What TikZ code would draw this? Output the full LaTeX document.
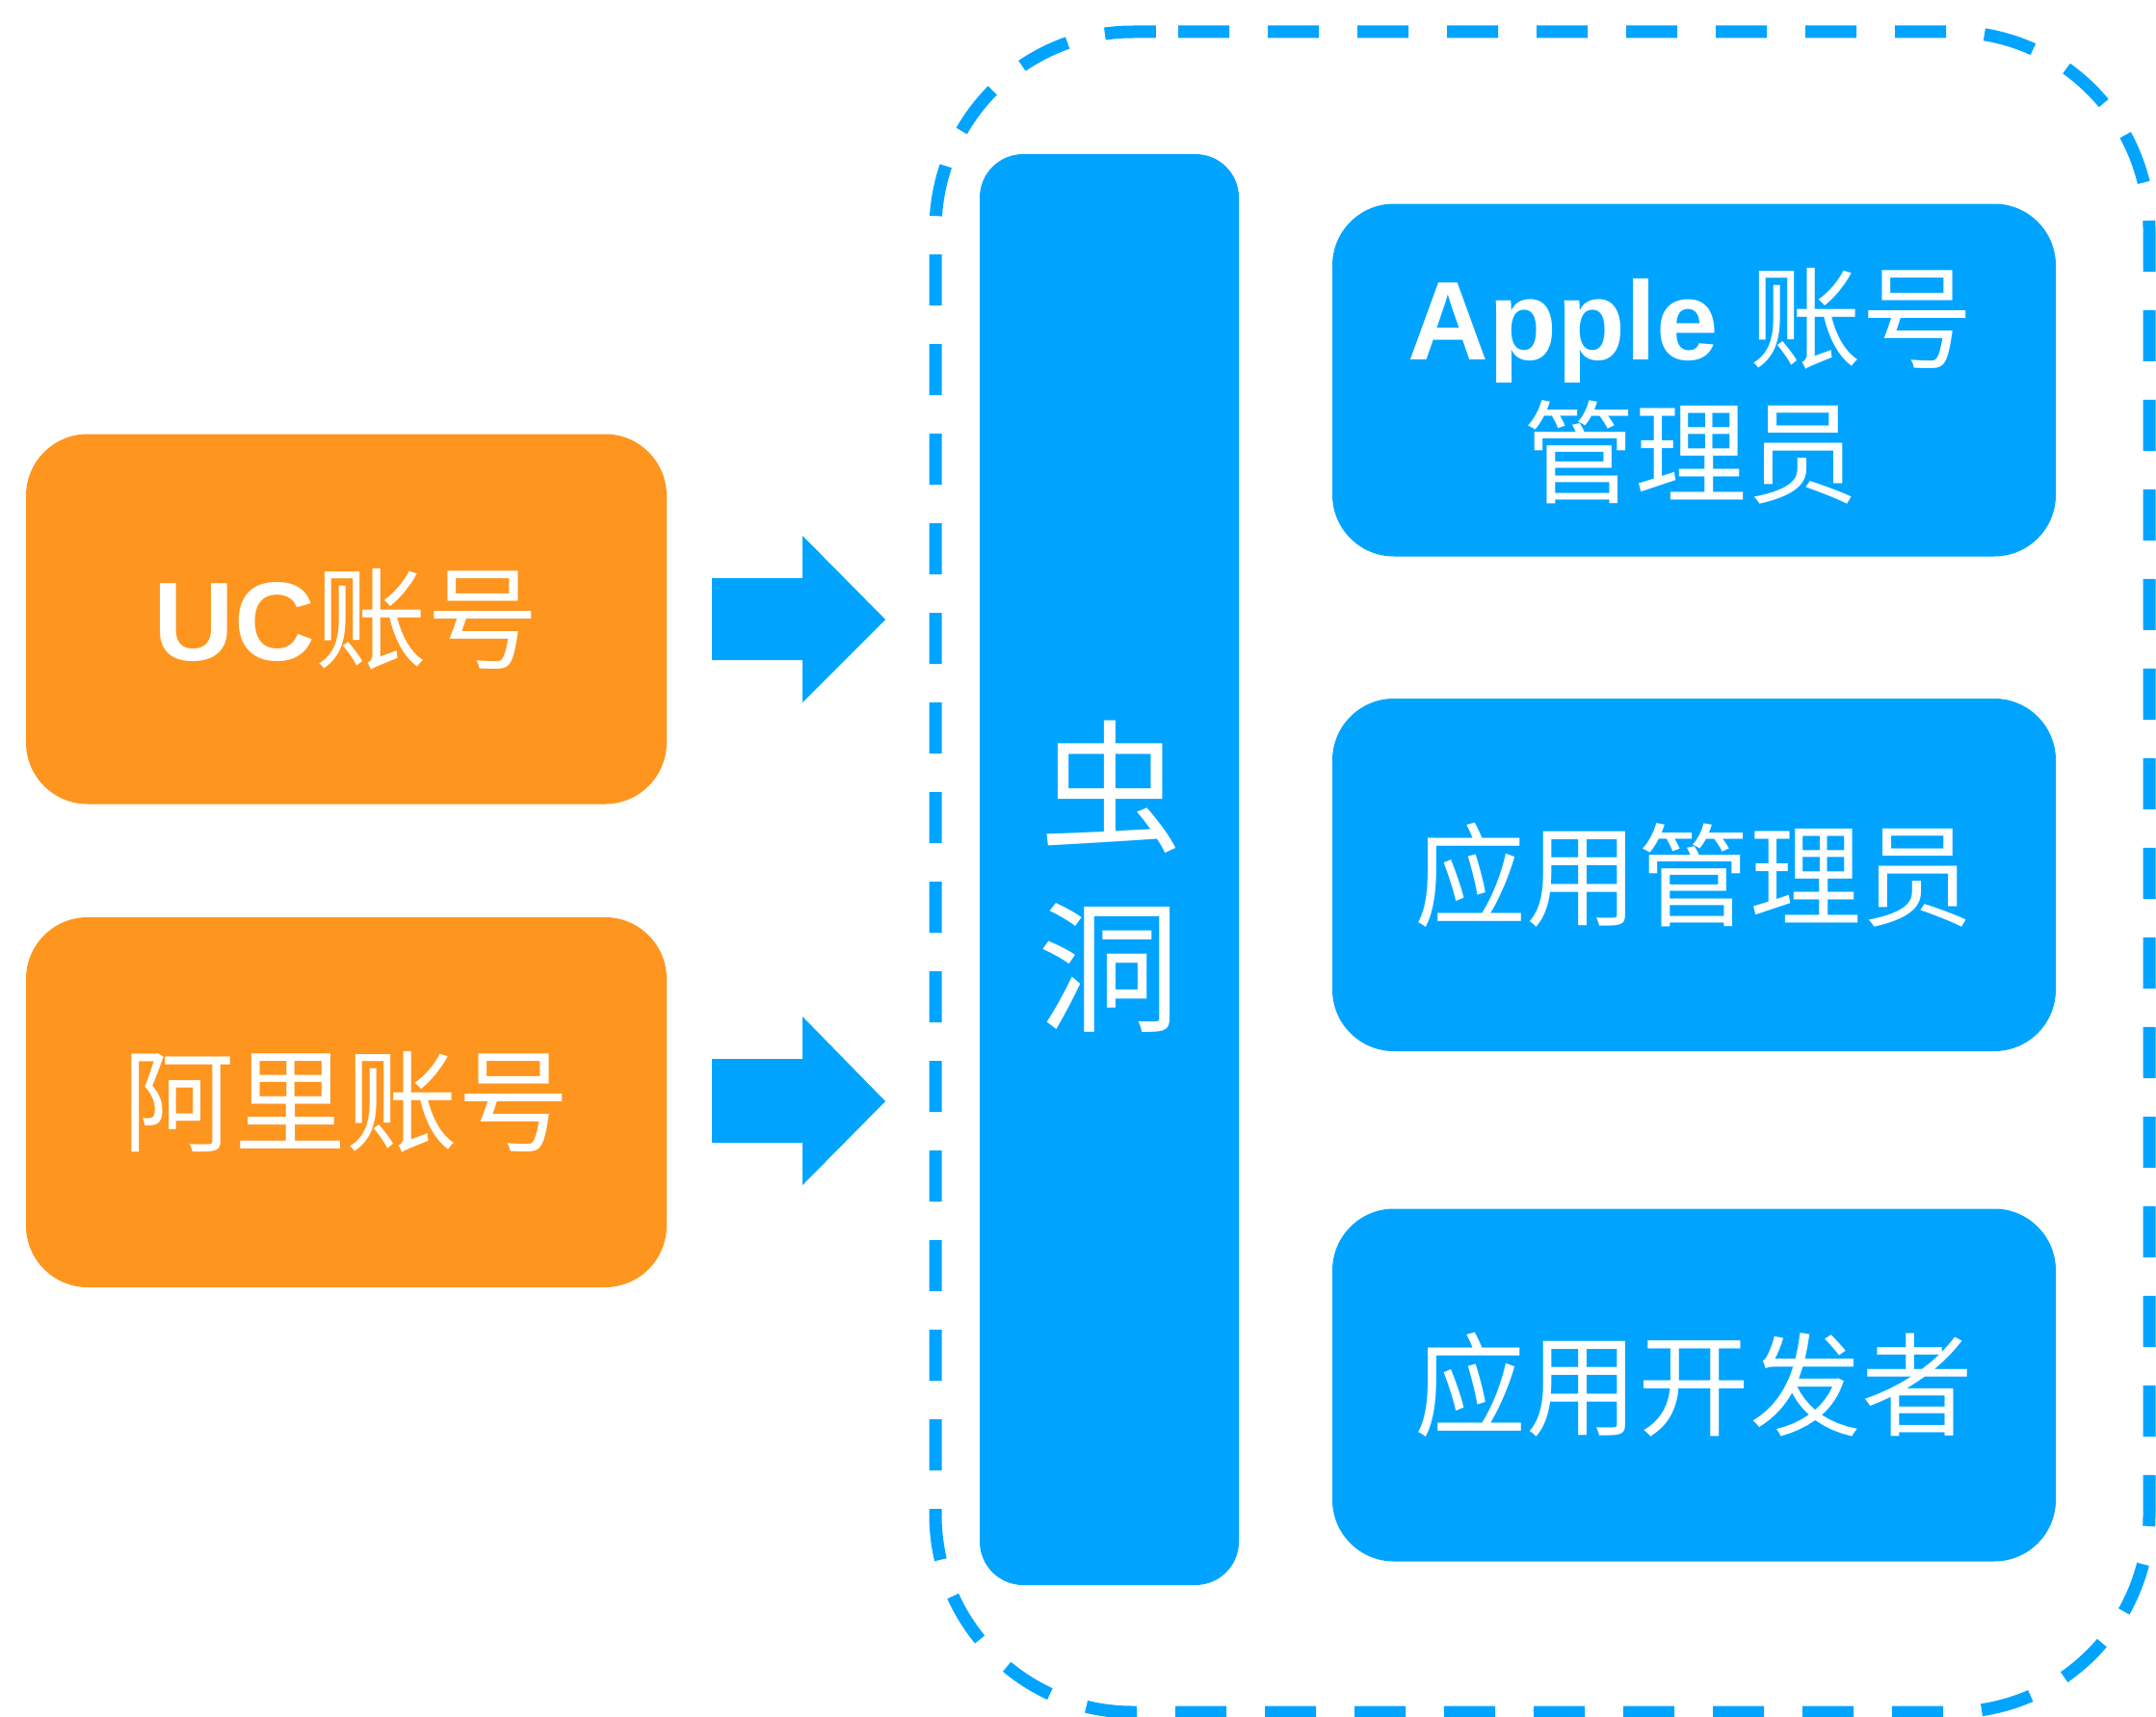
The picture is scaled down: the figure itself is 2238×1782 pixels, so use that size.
\documentclass[tikz,border=0pt]{standalone}
\usepackage{fontspec}
\setmainfont{Liberation Sans}
\newfontfamily\cjk{Noto Sans CJK SC}
\definecolor{obg}{RGB}{254,149,30}
\definecolor{bbg}{RGB}{0,164,255}
\begin{document}
\begin{tikzpicture}[x=0.5pt,y=-0.5pt,
  obox/.style={fill=obg, draw=none, rounded corners=32pt, minimum width=332.5pt, minimum height=192pt, inner sep=0pt, text=white, font=\fontsize{58}{70}\selectfont},
  bbox/.style={fill=bbg, draw=none, rounded corners=32pt, minimum width=375.5pt, minimum height=183pt, inner sep=0pt, text=white, font=\fontsize{58}{70}\selectfont},
  barbox/.style={fill=bbg, draw=none, rounded corners=22.5pt, minimum width=134.5pt, minimum height=742.5pt, inner sep=0pt},
  bartext/.style={inner sep=0pt, text=white, font=\fontsize{74}{90}\selectfont\cjk},
  linetext/.style={inner sep=0pt, text=white, anchor=base, font=\fontsize{58}{70}\selectfont},
  blockarrow/.style={fill=bbg, draw=none},
  frame/.style={draw=bbg, line width=6.5pt, dash pattern=on 26.5pt off 20pt, rounded corners=102.5pt}]
\useasboundingbox (0,0) rectangle (2238,1782);
\clip (0,0) rectangle (2238,1782);
% dashed frame
\draw[frame] (1223,33) -- (2231,33) -- (2231,1777) -- (971,1777) -- (971,33) -- (1223,33);
% left boxes
\node[obox] (uc) at (359.5,642.5) {\textbf{UC}{\cjk 账号}};
\node[obox] (ali) at (359.5,1144) {{\cjk 阿里账号}};
% block arrows
\fill[blockarrow] (739,600) -- (833,600) -- (833,556) -- (919,643) -- (833,729) -- (833,685) -- (739,685) -- cycle;
\fill[blockarrow] (739,1099) -- (833,1099) -- (833,1055) -- (919,1143) -- (833,1230) -- (833,1186) -- (739,1186) -- cycle;
% middle bar
\node[barbox] (mid) at (1151.5,902.5) {};
\node[bartext] (chong) at (1153,817) {虫};
\node[bartext] (dong) at (1151,1004.5) {洞};
% right boxes
\node[bbox] (apple) at (1758.5,394.5) {};
\node[linetext] (appleA) at (1755,373) {\textbf{Apple} {\cjk 账号}};
\node[linetext] (appleB) at (1755,513) {{\cjk 管理员}};
\node[bbox] (appadmin) at (1758.5,908) {{\cjk 应用管理员}};
\node[bbox] (dev) at (1758.5,1437.5) {{\cjk 应用开发者}};
\end{tikzpicture}
\end{document}
